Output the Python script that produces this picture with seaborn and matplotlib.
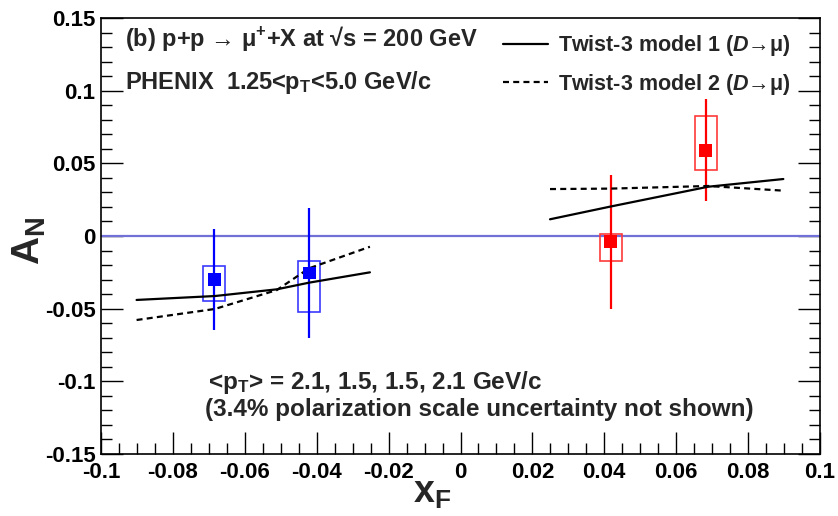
import numpy as np
import pandas as pd
import matplotlib
matplotlib.use("Agg")
import matplotlib.pyplot as plt
from matplotlib.patches import Rectangle
from matplotlib.lines import Line2D
from matplotlib.ticker import MultipleLocator, FixedLocator, FixedFormatter
import seaborn as sns

# ---- data ----
xf = [-0.0685, -0.0421, 0.0418, 0.0682]
an = [-0.0300, -0.0255, -0.0040, 0.0590]
stat_err = [0.035, 0.045, 0.046, 0.035]
sys_lo = [-0.0445, -0.0523, -0.0172, 0.0454]
sys_hi = [-0.0206, -0.0172, 0.0014, 0.0826]
arm = ["south", "south", "north", "north"]

m1_left_x = [-0.0901, -0.0683, -0.0511, -0.0421, -0.0252]
m1_left_y = [-0.0440, -0.0413, -0.0367, -0.0321, -0.0250]
m1_right_x = [0.0249, 0.0416, 0.0689, 0.0898]
m1_right_y = [0.0115, 0.0202, 0.0339, 0.0392]
m2_left_x = [-0.0901, -0.0683, -0.0511, -0.0421, -0.0252]
m2_left_y = [-0.0578, -0.0502, -0.0372, -0.0222, -0.0074]
m2_right_x = [0.0249, 0.0416, 0.0689, 0.0898]
m2_right_y = [0.0323, 0.0326, 0.0344, 0.0312]

xticks = [-0.1, -0.08, -0.06, -0.04, -0.02, 0, 0.02, 0.04, 0.06, 0.08, 0.1]
xtick_labels = ["-0.1", "-0.08", "-0.06", "-0.04", "-0.02", "0", "0.02", "0.04", "0.06", "0.08", "0.1"]
yticks = [-0.15, -0.1, -0.05, 0, 0.05, 0.1, 0.15]
ytick_labels = ["-0.15", "-0.1", "-0.05", "0", "0.05", "0.1", "0.15"]

# ---- style ----
sns.set_style("ticks")
plt.rcParams["font.family"] = ["Liberation Sans", "DejaVu Sans"]
plt.rcParams["font.weight"] = "bold"
plt.rcParams["mathtext.fontset"] = "custom"
plt.rcParams["mathtext.rm"] = "Liberation Sans:bold"
plt.rcParams["mathtext.it"] = "Liberation Sans:italic:bold"
plt.rcParams["mathtext.bf"] = "Liberation Sans:bold"
plt.rcParams["mathtext.sf"] = "Liberation Sans:bold"
plt.rcParams["mathtext.default"] = "rm"

fig = plt.figure(figsize=(8.38, 5.16), dpi=100)
ax = fig.add_axes([101 / 838, 1 - 454 / 516, 719 / 838, 436 / 516])

colors = {"south": "#0000ff", "north": "#ff0000"}
box_colors = {"south": "#3a3aff", "north": "#ff3a3a"}
dash = (0, (2.7, 1.9))

df = pd.DataFrame({"xf": xf, "an": an, "err": stat_err, "lo": sys_lo, "hi": sys_hi, "arm": arm})

# zero line
ax.axhline(0, color="#7070d8", lw=1.6, zorder=1)

# systematic boxes
half_w = 0.0031
for _, r in df.iterrows():
    ax.add_patch(Rectangle((r.xf - half_w, r.lo), 2 * half_w, r.hi - r.lo, fill=False,
                           edgecolor=box_colors[r.arm], lw=1.2, zorder=3))
# statistical error bars
for a in ["south", "north"]:
    d = df[df.arm == a]
    ax.errorbar(d.xf, d.an, yerr=d.err, fmt="none", ecolor=colors[a], elinewidth=1.6, capsize=0, zorder=4)

# model curves
rows = []
for model, seg, xs, ys in [("m1", "L", m1_left_x, m1_left_y), ("m1", "R", m1_right_x, m1_right_y),
                           ("m2", "L", m2_left_x, m2_left_y), ("m2", "R", m2_right_x, m2_right_y)]:
    for x, y in zip(xs, ys):
        rows.append({"x": x, "y": y, "model": model, "seg": seg})
mdf = pd.DataFrame(rows)
sns.lineplot(data=mdf[mdf.model == "m1"], x="x", y="y", units="seg", estimator=None, sort=False,
             color="black", lw=1.6, ax=ax, zorder=5)
sns.lineplot(data=mdf[mdf.model == "m2"], x="x", y="y", units="seg", estimator=None, sort=False,
             color="black", lw=1.6, ax=ax, zorder=5, linestyle=dash)

# markers
sns.scatterplot(data=df, x="xf", y="an", hue="arm", palette=colors, marker="s", s=85,
                edgecolor="none", legend=False, ax=ax, zorder=6)

ax.set_xlim(-0.1, 0.1)
ax.set_ylim(-0.15, 0.15)

ax.xaxis.set_major_locator(FixedLocator(xticks))
ax.xaxis.set_major_formatter(FixedFormatter(xtick_labels))
ax.xaxis.set_minor_locator(MultipleLocator(0.005))
ax.yaxis.set_major_locator(FixedLocator(yticks))
ax.yaxis.set_major_formatter(FixedFormatter(ytick_labels))
ax.yaxis.set_minor_locator(MultipleLocator(0.01))
ax.tick_params(axis="both", which="both", direction="in", colors="black", labelsize=16)
ax.tick_params(axis="x", which="both", top=False, bottom=True)
ax.tick_params(axis="y", which="both", left=True, right=True)
ax.tick_params(axis="x", which="major", length=16, width=1.0, pad=6)
ax.tick_params(axis="x", which="minor", length=8, width=1.0)
ax.tick_params(axis="y", which="major", length=16, width=1.0, pad=4)
ax.tick_params(axis="y", which="minor", length=8, width=1.0)
for lab in ax.get_xticklabels() + ax.get_yticklabels():
    lab.set_fontweight("bold")
for sp in ax.spines.values():
    sp.set_linewidth(1.2)
    sp.set_color("black")

ax.set_xlabel("")
ax.set_ylabel("")
ax.text(0.46, -0.089, r"x$_{F}$", transform=ax.transAxes, fontsize=27, fontweight="bold",
        ha="center", va="center")
ax.text(-0.099, 0.49, r"A$_{N}$", transform=ax.transAxes, fontsize=28, fontweight="bold",
        ha="center", va="center", rotation=90)

ax.text(0.033, 0.954, "(b) p+p → μ$^{+}$+X at √s = 200 GeV", transform=ax.transAxes,
        fontsize=17, fontweight="bold", ha="left", va="center")
ax.text(0.033, 0.853, "PHENIX  1.25<p$_{T}$<5.0 GeV/c", transform=ax.transAxes,
        fontsize=17, fontweight="bold", ha="left", va="center")
ax.text(0.149, 0.165, "<p$_{T}$> = 2.1, 1.5, 1.5, 2.1 GeV/c", transform=ax.transAxes,
        fontsize=17.5, fontweight="bold", ha="left", va="center")
ax.text(0.145, 0.101, "(3.4% polarization scale uncertainty not shown)", transform=ax.transAxes,
        fontsize=17.5, fontweight="bold", ha="left", va="center")

handles = [Line2D([], [], color="black", lw=1.6),
           Line2D([], [], color="black", lw=1.6, linestyle=dash)]
labels = [r"Twist-3 model 1 ($\mathit{D}$→μ)", r"Twist-3 model 2 ($\mathit{D}$→μ)"]
leg = ax.legend(handles, labels, loc="upper left", bbox_to_anchor=(0.559, 0.965), frameon=False,
                borderpad=0, borderaxespad=0, handlelength=2.1, handletextpad=0.45,
                labelspacing=0.62, prop={"size": 15.5, "weight": "bold"})

fig.savefig("out.png", dpi=100)
